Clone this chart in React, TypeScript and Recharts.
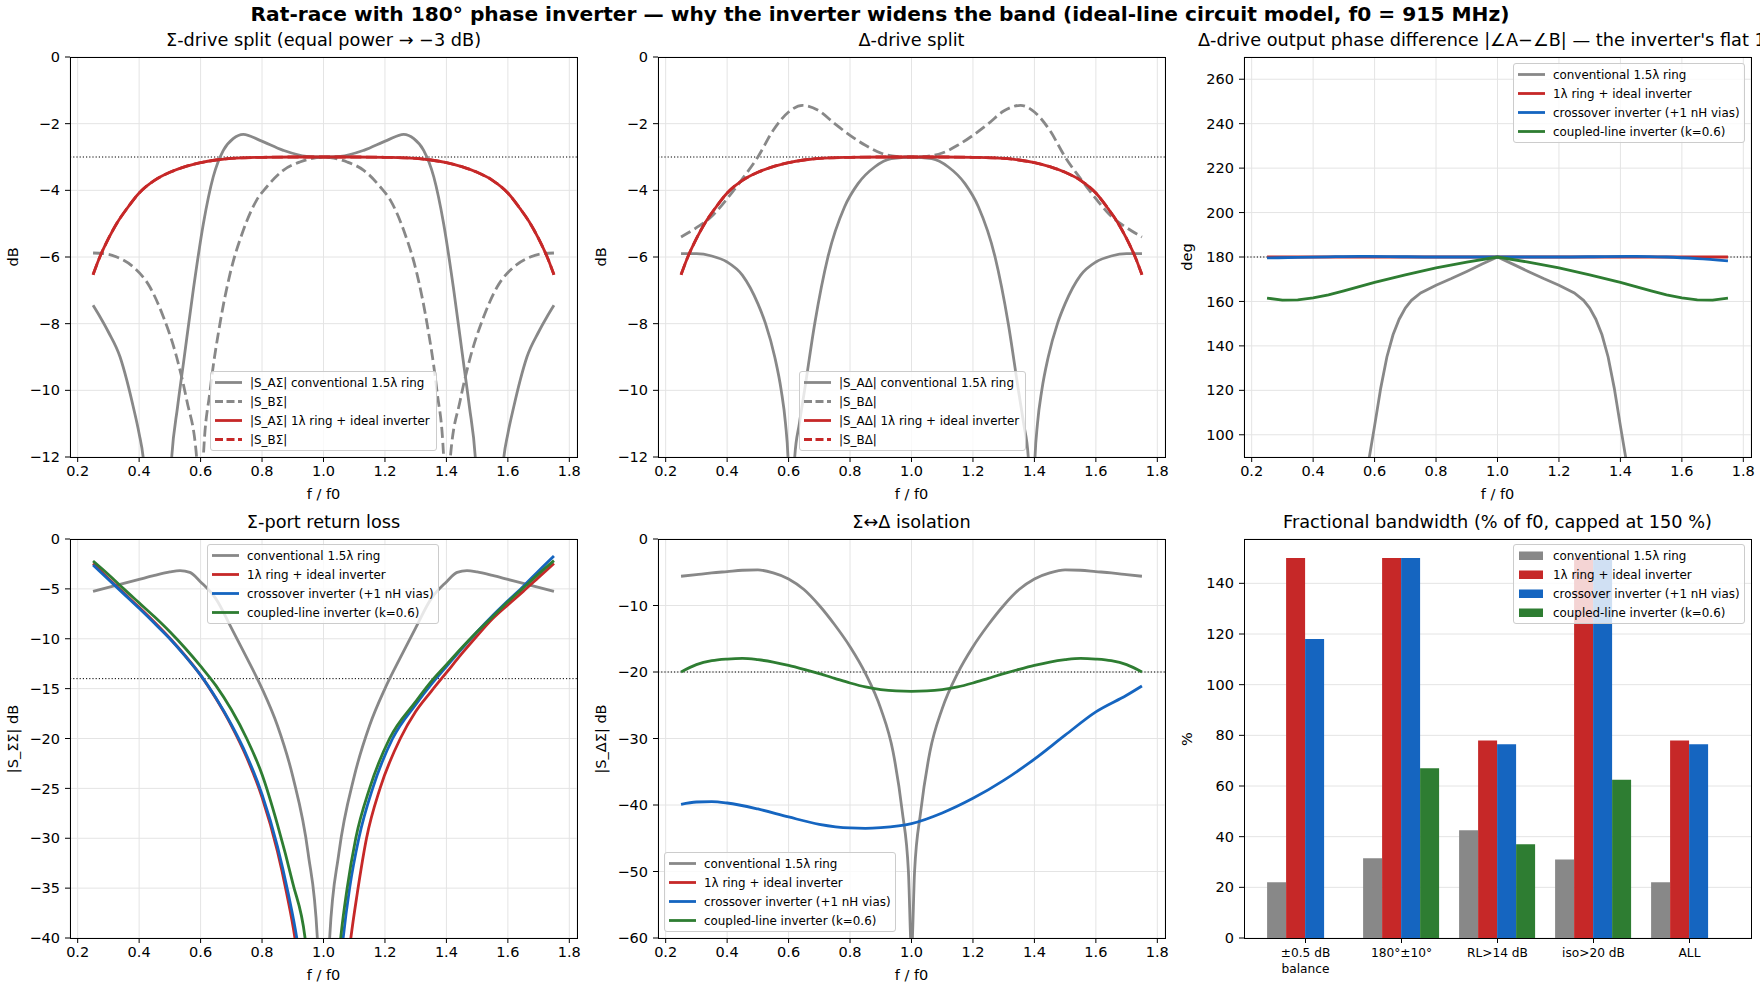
import { LineChart, Line, XAxis, YAxis, CartesianGrid, ReferenceLine, BarChart, Bar } from 'recharts';

type Pt = [number, number];

const GRAY = '#888888';
const RED = '#c62828';
const BLUE = '#1565c0';
const GREEN = '#2e7d32';

const F_TICKS = [0.2, 0.4, 0.6, 0.8, 1.0, 1.2, 1.4, 1.6, 1.8];

// Σ-drive split
const sumConvA: Pt[] = [[0.25,-7.45],[0.273,-7.8],[0.3,-8.25],[0.338,-9.0],[0.36,-9.7],[0.381,-10.5],[0.4,-11.3],[0.413,-12],[0.44,-16],[0.46,-20],[0.485,-16],[0.506,-12],[0.525,-10.5],[0.544,-9.2],[0.576,-7],[0.609,-5],[0.641,-3.6],[0.674,-2.8],[0.706,-2.45],[0.739,-2.32],[0.793,-2.5],[0.869,-2.8],[0.945,-2.98],[1.0,-3.0],[1.055,-2.98],[1.131,-2.8],[1.207,-2.5],[1.261,-2.32],[1.294,-2.45],[1.326,-2.8],[1.359,-3.6],[1.391,-5],[1.424,-7],[1.456,-9.2],[1.475,-10.5],[1.494,-12],[1.515,-16],[1.54,-20],[1.56,-16],[1.587,-12],[1.6,-11.3],[1.619,-10.5],[1.64,-9.7],[1.662,-9.0],[1.7,-8.25],[1.727,-7.8],[1.75,-7.45]];
const sumConvB: Pt[] = [[0.25,-5.88],[0.3,-5.92],[0.327,-6.0],[0.381,-6.3],[0.435,-6.9],[0.479,-7.8],[0.522,-9.0],[0.555,-10.3],[0.587,-12],[0.598,-16],[0.609,-12],[0.631,-10],[0.663,-8],[0.696,-6.5],[0.739,-5.2],[0.782,-4.3],[0.815,-3.9],[0.869,-3.4],[0.923,-3.15],[0.978,-3.02],[1.0,-3.0],[1.022,-3.02],[1.077,-3.15],[1.131,-3.4],[1.185,-3.9],[1.218,-4.3],[1.261,-5.2],[1.304,-6.5],[1.337,-8],[1.369,-10],[1.391,-12],[1.402,-16],[1.413,-12],[1.445,-10.3],[1.478,-9.0],[1.521,-7.8],[1.565,-6.9],[1.619,-6.3],[1.673,-6.0],[1.7,-5.92],[1.75,-5.88]];
const splitIdeal: Pt[] = [[0.25,-6.53],[0.272,-6.0],[0.3,-5.45],[0.33,-4.95],[0.36,-4.55],[0.4,-4.08],[0.45,-3.7],[0.5,-3.46],[0.55,-3.29],[0.6,-3.17],[0.65,-3.09],[0.7,-3.04],[0.8,-3.01],[0.9,-3.0],[1.0,-3.0],[1.1,-3.0],[1.2,-3.01],[1.3,-3.04],[1.35,-3.09],[1.4,-3.17],[1.45,-3.29],[1.5,-3.46],[1.55,-3.7],[1.6,-4.08],[1.64,-4.55],[1.67,-4.95],[1.7,-5.45],[1.728,-6.0],[1.75,-6.53]];

// Δ-drive split
const difConvA: Pt[] = [[0.25,-5.9],[0.3,-5.9],[0.35,-5.97],[0.4,-6.15],[0.45,-6.55],[0.5,-7.4],[0.525,-8.0],[0.555,-9.0],[0.576,-10],[0.59,-11],[0.598,-12],[0.609,-16],[0.62,-12],[0.635,-11],[0.652,-10],[0.685,-8],[0.728,-6],[0.782,-4.5],[0.826,-3.8],[0.88,-3.3],[0.934,-3.05],[1.0,-3.0],[1.066,-3.05],[1.12,-3.3],[1.174,-3.8],[1.218,-4.5],[1.272,-6],[1.315,-8],[1.348,-10],[1.365,-11],[1.38,-12],[1.391,-16],[1.402,-12],[1.41,-11],[1.424,-10],[1.445,-9.0],[1.475,-8.0],[1.5,-7.4],[1.55,-6.55],[1.6,-6.15],[1.65,-5.97],[1.7,-5.9],[1.75,-5.9]];
const difConvB: Pt[] = [[0.25,-5.4],[0.3,-5.12],[0.35,-4.78],[0.4,-4.25],[0.45,-3.65],[0.5,-3.0],[0.55,-2.2],[0.6,-1.65],[0.645,-1.45],[0.7,-1.62],[0.75,-2.0],[0.8,-2.35],[0.85,-2.65],[0.9,-2.88],[0.95,-2.98],[1.0,-3.0],[1.05,-2.98],[1.1,-2.88],[1.15,-2.65],[1.2,-2.35],[1.25,-2.0],[1.3,-1.62],[1.355,-1.45],[1.4,-1.65],[1.45,-2.2],[1.5,-3.0],[1.55,-3.65],[1.6,-4.25],[1.65,-4.78],[1.7,-5.12],[1.75,-5.4]];

// phase difference (deg)
const phaseConv: Pt[] = [[0.56,60],[0.583,90],[0.6,104],[0.62,121],[0.64,135],[0.66,145],[0.68,152],[0.7,157],[0.72,160.5],[0.75,163.8],[0.8,167.3],[0.85,170.3],[0.9,173.5],[0.95,176.8],[1.0,180],[1.05,176.8],[1.1,173.5],[1.15,170.3],[1.2,167.3],[1.25,163.8],[1.28,160.5],[1.3,157],[1.32,152],[1.34,145],[1.36,135],[1.38,121],[1.4,104],[1.417,90],[1.44,60]];
const phaseIdeal: Pt[] = [[0.25,180],[0.5,180],[0.75,180],[1.0,180],[1.25,180],[1.5,180],[1.75,180]];
const phaseCross: Pt[] = [[0.25,179.6],[0.35,179.8],[0.45,180.1],[0.55,180.3],[0.65,180.2],[0.8,180.0],[1.0,180],[1.2,180.0],[1.35,180.2],[1.45,180.3],[1.55,180.0],[1.65,179.3],[1.75,178.3]];
const phaseCoupled: Pt[] = [[0.25,161.5],[0.3,160.6],[0.35,160.7],[0.4,161.6],[0.45,163.0],[0.5,164.8],[0.55,166.7],[0.6,168.6],[0.7,172.0],[0.8,175.1],[0.9,177.7],[1.0,180],[1.1,177.7],[1.2,175.1],[1.3,172.0],[1.4,168.6],[1.45,166.7],[1.5,164.8],[1.55,163.0],[1.6,161.6],[1.65,160.7],[1.7,160.6],[1.75,161.5]];

// Σ-port return loss
const rlConv: Pt[] = [[0.25,-5.25],[0.3,-4.85],[0.35,-4.45],[0.4,-4.05],[0.45,-3.65],[0.5,-3.3],[0.533,-3.17],[0.565,-3.35],[0.6,-4.3],[0.65,-6.0],[0.7,-8.9],[0.75,-11.9],[0.8,-15.0],[0.85,-18.7],[0.9,-23.8],[0.95,-31.5],[0.98,-40],[1.0,-80],[1.02,-40],[1.05,-31.5],[1.1,-23.8],[1.15,-18.7],[1.2,-15.0],[1.25,-11.9],[1.3,-8.9],[1.35,-6.0],[1.4,-4.3],[1.435,-3.35],[1.467,-3.17],[1.5,-3.3],[1.55,-3.65],[1.6,-4.05],[1.65,-4.45],[1.7,-4.85],[1.75,-5.25]];
const rlIdeal: Pt[] = [[0.25,-2.45],[0.3,-3.95],[0.35,-5.4],[0.4,-6.85],[0.45,-8.35],[0.5,-9.95],[0.55,-11.7],[0.6,-13.65],[0.65,-16.0],[0.7,-18.7],[0.75,-21.9],[0.8,-25.9],[0.85,-31.3],[0.88,-35.5],[0.907,-40],[0.95,-52],[1.0,-70],[1.05,-52],[1.089,-40],[1.11,-35.5],[1.14,-30],[1.184,-25],[1.25,-20],[1.3,-17.3],[1.35,-15.3],[1.4,-13.4],[1.45,-11.5],[1.5,-9.7],[1.55,-8.0],[1.6,-6.6],[1.65,-5.25],[1.7,-3.85],[1.75,-2.45]];
const rlCross: Pt[] = [[0.25,-2.6],[0.3,-4.05],[0.35,-5.5],[0.4,-6.95],[0.45,-8.45],[0.5,-10.0],[0.55,-11.75],[0.6,-13.65],[0.65,-15.95],[0.7,-18.6],[0.75,-21.7],[0.8,-25.6],[0.85,-30.8],[0.885,-35.5],[0.913,-40],[0.96,-52],[1.0,-65],[1.03,-52],[1.064,-40],[1.085,-35],[1.115,-30],[1.16,-25],[1.225,-20],[1.3,-16.6],[1.35,-14.6],[1.4,-12.8],[1.45,-11.0],[1.5,-9.3],[1.55,-7.7],[1.6,-6.2],[1.65,-4.75],[1.7,-3.2],[1.75,-1.7]];
const rlCoupled: Pt[] = [[0.25,-2.2],[0.3,-3.55],[0.35,-5.0],[0.4,-6.4],[0.45,-7.8],[0.5,-9.3],[0.55,-10.95],[0.6,-12.75],[0.65,-14.7],[0.7,-17.1],[0.75,-20.0],[0.8,-23.6],[0.85,-28.6],[0.9,-34.5],[0.94,-40],[0.97,-50],[1.0,-60],[1.03,-50],[1.056,-40],[1.077,-35],[1.105,-30],[1.15,-25],[1.215,-20],[1.3,-16.3],[1.35,-14.3],[1.4,-12.6],[1.45,-10.9],[1.5,-9.3],[1.55,-7.8],[1.6,-6.3],[1.65,-4.9],[1.7,-3.5],[1.75,-2.17]];

// Σ↔Δ isolation
const isoConv: Pt[] = [[0.25,-5.6],[0.3,-5.35],[0.35,-5.1],[0.4,-4.9],[0.45,-4.7],[0.5,-4.65],[0.55,-5.1],[0.6,-6.0],[0.65,-7.6],[0.7,-10.0],[0.75,-12.9],[0.8,-16.2],[0.85,-20.2],[0.9,-25.5],[0.94,-32],[0.97,-41],[0.99,-50],[1.0,-62],[1.01,-50],[1.03,-41],[1.06,-32],[1.1,-25.5],[1.15,-20.2],[1.2,-16.2],[1.25,-12.9],[1.3,-10.0],[1.35,-7.6],[1.4,-6.0],[1.45,-5.1],[1.5,-4.65],[1.55,-4.7],[1.6,-4.9],[1.65,-5.1],[1.7,-5.35],[1.75,-5.6]];
const isoCross: Pt[] = [[0.25,-39.9],[0.3,-39.55],[0.35,-39.5],[0.4,-39.7],[0.5,-40.6],[0.6,-41.8],[0.7,-42.9],[0.8,-43.45],[0.85,-43.5],[0.9,-43.4],[1.0,-42.8],[1.1,-41.2],[1.2,-39],[1.3,-36.3],[1.4,-33.1],[1.5,-29.5],[1.6,-26],[1.7,-23.5],[1.75,-22.1]];
const isoCoupled: Pt[] = [[0.25,-20],[0.3,-18.9],[0.35,-18.3],[0.4,-18.05],[0.45,-17.95],[0.5,-18.15],[0.55,-18.5],[0.6,-19.0],[0.65,-19.6],[0.7,-20.25],[0.75,-20.95],[0.8,-21.65],[0.85,-22.25],[0.9,-22.65],[0.95,-22.85],[1.0,-22.9],[1.05,-22.85],[1.1,-22.65],[1.15,-22.25],[1.2,-21.65],[1.25,-20.95],[1.3,-20.25],[1.35,-19.6],[1.4,-19.0],[1.45,-18.5],[1.5,-18.15],[1.55,-17.95],[1.6,-18.05],[1.65,-18.3],[1.7,-18.9],[1.75,-20]];

// fractional bandwidth (%)
const bwCategories = ['±0.5 dB\nbalance', '180°±10°', 'RL>14 dB', 'iso>20 dB', 'ALL'];
const bwConv = [22, 31.5, 42.5, 31, 22];
const bwIdeal = [150, 150, 78, 150, 78];
const bwCross = [118, 150, 76.5, 150, 76.5];
const bwCoupled = [0, 67, 37, 62.5, 0];

const LBL_CONV = 'conventional 1.5λ ring';
const LBL_IDEAL = '1λ ring + ideal inverter';
const LBL_CROSS = 'crossover inverter (+1 nH vias)';
const LBL_COUPLED = 'coupled-line inverter (k=0.6)';

type Series = { pts: Pt[]; color: string; dashed?: boolean; linear?: boolean };
type Box = { x: number; y: number; w: number; h: number };
type LegendItem = { label: string; color: string; dashed?: boolean; patch?: boolean };

const ML = 64, MR = 12, MT = 10, MB = 46;
const LW = 2.8;
const DASH = '11 4.7';
const FONT = 'DejaVu Sans, sans-serif';
const uminus = (v: number) => String(v).replace('-', '\u2212');
const toPts = (a: Pt[]) => a.map(([f, v]) => ({ f, v }));

function Txt({ x, y, size, bold, rotate, children }: any) {
  return (
    <div style={{ position: 'absolute', left: x, top: y, transform: `translate(-50%, -50%)${rotate ? ' rotate(-90deg)' : ''}`, fontSize: size, fontWeight: bold ? 'bold' : 'normal', whiteSpace: 'nowrap', lineHeight: 1 }}>
      {children}
    </div>
  );
}

function Frame({ box }: { box: Box }) {
  return <div style={{ position: 'absolute', left: box.x - 0.5, top: box.y - 0.5, width: box.w + 1, height: box.h + 1, border: '1px solid #000', boxSizing: 'border-box', pointerEvents: 'none' }} />;
}

function Legend({ x, y, w, items }: { x: number; y: number; w: number; items: LegendItem[] }) {
  return (
    <div style={{ position: 'absolute', left: x, top: y, width: w, padding: '1px 0', background: 'rgba(255,255,255,0.8)', border: '1px solid #cccccc', borderRadius: 3, boxSizing: 'border-box' }}>
      {items.map((it) => (
        <div key={it.label + it.color + (it.dashed ? 'd' : '')} style={{ height: 19, display: 'flex', alignItems: 'center', whiteSpace: 'nowrap', fontSize: 11.9 }}>
          <svg width={39} height={19} style={{ flex: 'none' }}>
            {it.patch ? (
              <rect x={5} y={5.5} width={24} height={8.5} fill={it.color} />
            ) : (
              <line x1={4} x2={31} y1={9.5} y2={9.5} stroke={it.color} strokeWidth={LW} strokeDasharray={it.dashed ? '8 3.5' : undefined} />
            )}
          </svg>
          <span>{it.label}</span>
        </div>
      ))}
    </div>
  );
}

function LinePanel({ box, title, yLabel, yDomain, yTicks, refY, series, legend, lx, ly, lw }: any) {
  return (
    <>
      <div style={{ position: 'absolute', left: box.x - ML, top: box.y - MT }}>
        <LineChart width={box.w + ML + MR} height={box.h + MT + MB} margin={{ top: MT, right: MR, bottom: 0, left: 0 }}>
          <CartesianGrid stroke="#e4e4e4" />
          <XAxis type="number" dataKey="f" domain={[0.175, 1.825]} ticks={F_TICKS} allowDataOverflow height={MB}
            axisLine={false} tickLine={{ stroke: '#000' }} tickSize={5} tickMargin={4}
            tick={{ fill: '#000', fontSize: 14.5 }} tickFormatter={(v: number) => v.toFixed(1)} />
          <YAxis type="number" domain={yDomain} ticks={yTicks} allowDataOverflow width={ML}
            axisLine={false} tickLine={{ stroke: '#000' }} tickSize={5} tickMargin={5}
            tick={{ fill: '#000', fontSize: 14.5 }} tickFormatter={uminus} />
          <ReferenceLine y={refY} stroke="#000" strokeWidth={1} strokeDasharray="1.2 2" />
          {series.map((s: Series, i: number) => (
            <Line key={i} data={toPts(s.pts)} dataKey="v" type={s.linear ? 'linear' : 'monotone'} stroke={s.color}
              strokeWidth={LW} strokeDasharray={s.dashed ? DASH : undefined} dot={false} activeDot={false}
              isAnimationActive={false} />
          ))}
        </LineChart>
      </div>
      <Frame box={box} />
      <Txt x={box.x + box.w / 2} y={box.y - 16} size={17.7}>{title}</Txt>
      <Txt x={box.x - 57} y={box.y + box.h / 2} size={14.5} rotate>{yLabel}</Txt>
      <Txt x={box.x + box.w / 2} y={box.y + box.h + 37} size={14.5}>f / f0</Txt>
      <Legend x={lx} y={ly} w={lw} items={legend} />
    </>
  );
}

function BarTick({ x, y, payload }: any) {
  const lines = String(payload.value).split('\n');
  return (
    <text x={x} y={y} textAnchor="middle" fontSize={12.2} fill="#000">
      {lines.map((l, i) => (
        <tspan key={i} x={x} dy={i === 0 ? '0.8em' : '1.3em'}>{l}</tspan>
      ))}
    </text>
  );
}

const P1: Box = { x: 70, y: 57, w: 507, h: 400 };
const P2: Box = { x: 658, y: 57, w: 507, h: 400 };
const P3: Box = { x: 1244, y: 57, w: 507, h: 400 };
const P4: Box = { x: 70, y: 539, w: 507, h: 399 };
const P5: Box = { x: 658, y: 539, w: 507, h: 399 };
const P6: Box = { x: 1244, y: 539, w: 507, h: 399 };

const fourLegend: LegendItem[] = [
  { label: LBL_CONV, color: GRAY },
  { label: LBL_IDEAL, color: RED },
  { label: LBL_CROSS, color: BLUE },
  { label: LBL_COUPLED, color: GREEN },
];

export default function App() {
  const bwRows = bwCategories.map((c, i) => ({ cat: c, conv: bwConv[i], ideal: bwIdeal[i], cross: bwCross[i], coupled: bwCoupled[i] }));
  return (
    <div style={{ position: 'absolute', left: 0, top: 0, width: 1760, height: 990, overflow: 'hidden', background: '#fff', fontFamily: FONT, color: '#000' }}>
      <Txt x={880} y={14} size={20.2} bold>
        Rat-race with 180° phase inverter — why the inverter widens the band (ideal-line circuit model, f0 = 915 MHz)
      </Txt>

      <LinePanel box={P1} title="Σ-drive split (equal power → −3 dB)" yLabel="dB" yDomain={[-12, 0]} yTicks={[-12, -10, -8, -6, -4, -2, 0]} refY={-3}
        series={[
          { pts: sumConvA, color: GRAY },
          { pts: sumConvB, color: GRAY, dashed: true },
          { pts: splitIdeal, color: RED },
          { pts: splitIdeal, color: RED, dashed: true },
        ]}
        legend={[
          { label: '|S_AΣ| ' + LBL_CONV, color: GRAY },
          { label: '|S_BΣ|', color: GRAY, dashed: true },
          { label: '|S_AΣ| ' + LBL_IDEAL, color: RED },
          { label: '|S_BΣ|', color: RED, dashed: true },
        ]}
        lx={210} ly={371} lw={227} />

      <LinePanel box={P2} title="Δ-drive split" yLabel="dB" yDomain={[-12, 0]} yTicks={[-12, -10, -8, -6, -4, -2, 0]} refY={-3}
        series={[
          { pts: difConvA, color: GRAY },
          { pts: difConvB, color: GRAY, dashed: true },
          { pts: splitIdeal, color: RED },
          { pts: splitIdeal, color: RED, dashed: true },
        ]}
        legend={[
          { label: '|S_AΔ| ' + LBL_CONV, color: GRAY },
          { label: '|S_BΔ|', color: GRAY, dashed: true },
          { label: '|S_AΔ| ' + LBL_IDEAL, color: RED },
          { label: '|S_BΔ|', color: RED, dashed: true },
        ]}
        lx={799} ly={371} lw={227} />

      <LinePanel box={P3} title="Δ-drive output phase difference |∠A−∠B| — the inverter's flat 180°" yLabel="deg" yDomain={[90, 270]} yTicks={[100, 120, 140, 160, 180, 200, 220, 240, 260]} refY={180}
        series={[
          { pts: phaseConv, color: GRAY, linear: true },
          { pts: phaseIdeal, color: RED, linear: true },
          { pts: phaseCross, color: BLUE },
          { pts: phaseCoupled, color: GREEN, linear: true },
        ]}
        legend={fourLegend} lx={1513} ly={63} lw={232} />

      <LinePanel box={P4} title="Σ-port return loss" yLabel="|S_ΣΣ| dB" yDomain={[-40, 0]} yTicks={[-40, -35, -30, -25, -20, -15, -10, -5, 0]} refY={-14}
        series={[
          { pts: rlConv, color: GRAY },
          { pts: rlIdeal, color: RED },
          { pts: rlCross, color: BLUE },
          { pts: rlCoupled, color: GREEN },
        ]}
        legend={fourLegend} lx={207} ly={544} lw={232} />

      <LinePanel box={P5} title="Σ↔Δ isolation" yLabel="|S_ΔΣ| dB" yDomain={[-60, 0]} yTicks={[-60, -50, -40, -30, -20, -10, 0]} refY={-20}
        series={[
          { pts: isoConv, color: GRAY },
          { pts: isoCross, color: BLUE },
          { pts: isoCoupled, color: GREEN },
        ]}
        legend={fourLegend} lx={664} ly={852} lw={232} />

      <div style={{ position: 'absolute', left: P6.x - ML, top: P6.y - MT }}>
        <BarChart width={P6.w + ML + MR} height={P6.h + MT + MB} data={bwRows} margin={{ top: MT, right: MR, bottom: 0, left: 0 }}
          barCategoryGap="10%" barGap={0}>
          <CartesianGrid stroke="#e4e4e4" vertical={false} />
          <XAxis dataKey="cat" type="category" padding={{ left: 13.5, right: 13.5 }} height={MB} interval={0}
            axisLine={false} tickLine={{ stroke: '#000' }} tickSize={5} tickMargin={4} tick={<BarTick />} />
          <YAxis type="number" domain={[0, 157.5]} ticks={[0, 20, 40, 60, 80, 100, 120, 140]} allowDataOverflow width={ML}
            axisLine={false} tickLine={{ stroke: '#000' }} tickSize={5} tickMargin={5} tick={{ fill: '#000', fontSize: 14.5 }} />
          <Bar dataKey="conv" fill={GRAY} isAnimationActive={false} />
          <Bar dataKey="ideal" fill={RED} isAnimationActive={false} />
          <Bar dataKey="cross" fill={BLUE} isAnimationActive={false} />
          <Bar dataKey="coupled" fill={GREEN} isAnimationActive={false} />
        </BarChart>
      </div>
      <Frame box={P6} />
      <Txt x={P6.x + P6.w / 2} y={P6.y - 16} size={17.7}>Fractional bandwidth (% of f0, capped at 150 %)</Txt>
      <Txt x={P6.x - 57} y={P6.y + P6.h / 2} size={14.5} rotate>%</Txt>
      <Legend x={1513} y={544} w={232} items={fourLegend.map((it) => ({ ...it, patch: true }))} />
    </div>
  );
}
